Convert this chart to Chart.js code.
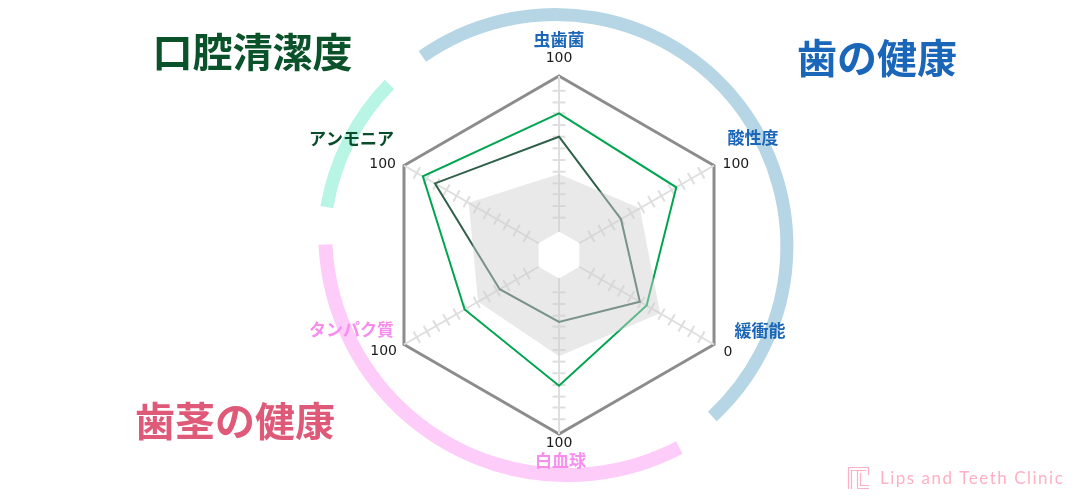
<!DOCTYPE html>
<html lang="ja">
<head>
<meta charset="utf-8">
<title>口腔内環境チャート</title>
<script src="https://cdn.jsdelivr.net/npm/chart.js@4/dist/chart.umd.min.js"></script>
<style>
  html, body { margin: 0; padding: 0; background: #fff; }
  #wrap { width: 1090px; height: 500px; }
</style>
</head>
<body>
<div id="wrap"><canvas id="radar" width="1090" height="500"></canvas></div>
<script>
// axes run clockwise from the top
const CATEGORIES = ["虫歯菌", "酸性度", "緩衝能", "白血球", "タンパク質", "アンモニア"];
const AXIS_END_LABELS = ["100", "100", "0", "100", "100", "100"];
const STANDARD_RANGE = [37, 45, 60, 50, 45, 52];
const PREVIOUS_RESULT = [61, 31, 45, 28, 29, 77];
const CURRENT_RESULT = [76, 72, 50, 69, 55, 86];
const BASE_LINE = [0, 0, 0, 0, 0, 0];
const SPOKE_MARKS = [9, 16.5, 24, 31, 38.5, 46, 53.5, 61, 68.5, 76, 83, 90.5];
const SCALE_MIN = -15;
const SCALE_MAX = 100;
const GROUP_TITLES = ["口腔清潔度", "歯の健康", "歯茎の健康"];

const CJK = '"Noto Sans CJK JP", "Noto Sans", sans-serif';

const COLORS = {
  teeth: "#1b66b6",
  gums: "#f98cef",
  clean: "#0b4d2b",
  outline: "#8c8c8c",
  spoke: "#dedede",
  current: "#00a550",
  previous: "#2f604a",
  range: "rgba(208, 208, 208, 0.46)",
  logo: "#ffb0c4",
};

// which colour each axis name uses
const LABEL_COLORS = [COLORS.teeth, COLORS.teeth, COLORS.teeth, COLORS.gums, COLORS.gums, COLORS.clean];

// label placement relative to the axis end point
const LABEL_LAYOUT = [
  { align: "center", name: [0, -36.5], value: [0, -17.5] },
  { align: "left", name: [13.5, -28], value: [8.5, -1] },
  { align: "left", name: [20.5, -14], value: [9.5, 7.5] },
  { align: "center", name: [1.5, 26.5], value: [0, 9.5] },
  { align: "right", name: [-10, -15], value: [-7, 6.5] },
  { align: "right", name: [-10, -26.5], value: [-8, -1] },
];

// decorative group arcs, centre given as offset from the chart centre
const GROUP_ARCS = [
  { color: "#b6d5e5", dx: -3.8, dy: -8.8, r: 231.7, from: -125, to: 47.3, width: 13 },
  { color: "#b9f5e4", dx: -3.8, dy: -8.8, r: 231.7, from: -170.3, to: -135.7, width: 13 },
  { color: "#fdccf9", dx: 8.2, dy: -21.9, r: 242, from: 62.4, to: 177.3, width: 14 },
];

const TITLE_LAYOUT = [
  { x: 252.5, y: 52, color: "#0a5229" },
  { x: 877, y: 58, color: "#1a66b8" },
  { x: 235, y: 421, color: "#df5a78" },
];

const deg = d => d * Math.PI / 180;

const groupArcs = {
  id: "groupArcs",
  beforeDraw(chart) {
    const scale = chart.scales.r;
    const ctx = chart.ctx;
    ctx.save();
    ctx.lineCap = "butt";
    for (const a of GROUP_ARCS) {
      ctx.strokeStyle = a.color;
      ctx.lineWidth = a.width;
      ctx.beginPath();
      ctx.arc(scale.xCenter + a.dx, scale.yCenter + a.dy, a.r, deg(a.from), deg(a.to));
      ctx.stroke();
    }
    ctx.restore();
  },
};

const spokeMarks = {
  id: "spokeMarks",
  beforeDatasetsDraw(chart) {
    const scale = chart.scales.r;
    const ctx = chart.ctx;
    ctx.save();
    ctx.strokeStyle = COLORS.spoke;
    ctx.lineWidth = 2;
    for (let i = 0; i < CATEGORIES.length; i++) {
      const angle = scale.getIndexAngle(i) - Math.PI / 2;
      const nx = -Math.sin(angle);
      const ny = Math.cos(angle);
      for (const t of scale.ticks) {
        if (t.value >= SCALE_MAX) continue;
        const p = scale.getPointPositionForValue(i, t.value);
        ctx.beginPath();
        ctx.moveTo(p.x - nx * 6.5, p.y - ny * 6.5);
        ctx.lineTo(p.x + nx * 6.5, p.y + ny * 6.5);
        ctx.stroke();
      }
    }
    ctx.restore();
  },
};

const chartText = {
  id: "chartText",
  afterDraw(chart) {
    const scale = chart.scales.r;
    const ctx = chart.ctx;
    ctx.save();
    ctx.textBaseline = "middle";

    CATEGORIES.forEach((name, i) => {
      const end = scale.getPointPositionForValue(i, SCALE_MAX);
      const lay = LABEL_LAYOUT[i];
      ctx.textAlign = lay.align;
      ctx.font = `bold 17px ${CJK}`;
      ctx.fillStyle = LABEL_COLORS[i];
      ctx.fillText(name, end.x + lay.name[0], end.y + lay.name[1]);
      ctx.font = '14px "DejaVu Sans", sans-serif';
      ctx.fillStyle = "#1a1a1a";
      ctx.fillText(AXIS_END_LABELS[i], end.x + lay.value[0], end.y + lay.value[1]);
    });

    ctx.textAlign = "center";
    ctx.font = `bold 40px ${CJK}`;
    GROUP_TITLES.forEach((title, i) => {
      ctx.fillStyle = TITLE_LAYOUT[i].color;
      ctx.fillText(title, TITLE_LAYOUT[i].x, TITLE_LAYOUT[i].y);
    });

    // clinic mark, bottom right
    ctx.strokeStyle = COLORS.logo;
    ctx.lineWidth = 1.2;
    ctx.beginPath();
    ctx.moveTo(848, 467.5); ctx.lineTo(869, 467.5);
    ctx.moveTo(848.5, 467); ctx.lineTo(848.5, 489);
    ctx.moveTo(851.5, 470); ctx.lineTo(851.5, 489);
    ctx.moveTo(851, 470.5); ctx.lineTo(866, 470.5);
    ctx.moveTo(857.5, 470); ctx.lineTo(857.5, 489);
    ctx.moveTo(860.5, 473); ctx.lineTo(860.5, 486);
    ctx.moveTo(860, 485.5); ctx.lineTo(869, 485.5);
    ctx.moveTo(857, 488.5); ctx.lineTo(869, 488.5);
    ctx.moveTo(868.5, 467); ctx.lineTo(868.5, 475);
    ctx.stroke();
    ctx.textAlign = "left";
    ctx.fillStyle = COLORS.logo;
    ctx.font = '17px Lato, "Open Sans", sans-serif';
    ctx.letterSpacing = "1.5px";
    ctx.fillText("Lips and Teeth Clinic", 880, 479);
    ctx.restore();
  },
};

new Chart(document.getElementById("radar"), {
  type: "radar",
  data: {
    labels: CATEGORIES,
    datasets: [
      // white centre: fills from the scale minimum up to 0
      { label: "base", data: BASE_LINE, fill: "start", backgroundColor: "#ffffff", borderWidth: 0 },
      { label: "基準範囲", data: STANDARD_RANGE, fill: "origin", backgroundColor: COLORS.range, borderWidth: 0 },
      { label: "今回", data: CURRENT_RESULT, fill: false, borderColor: COLORS.current, borderWidth: 2 },
      { label: "前回", data: PREVIOUS_RESULT, fill: false, borderColor: COLORS.previous, borderWidth: 2 },
    ],
  },
  options: {
    responsive: false,
    animation: false,
    layout: { padding: { left: 380, right: 352, top: 76, bottom: 66 } },
    elements: { point: { radius: 0, hoverRadius: 0 }, line: { tension: 0 } },
    plugins: { legend: { display: false }, tooltip: { enabled: false } },
    scales: {
      r: {
        min: SCALE_MIN,
        max: SCALE_MAX,
        afterBuildTicks: (axis) => {
          axis.ticks = SPOKE_MARKS.concat(SCALE_MAX).map(v => ({ value: v }));
        },
        ticks: { display: false },
        pointLabels: { display: false },
        grid: {
          color: c => (c.tick && c.tick.value === SCALE_MAX ? COLORS.outline : "transparent"),
          lineWidth: c => (c.tick && c.tick.value === SCALE_MAX ? 3 : 0),
        },
        angleLines: { color: COLORS.spoke, lineWidth: 2 },
      },
    },
  },
  plugins: [groupArcs, spokeMarks, chartText],
});
</script>
</body>
</html>
